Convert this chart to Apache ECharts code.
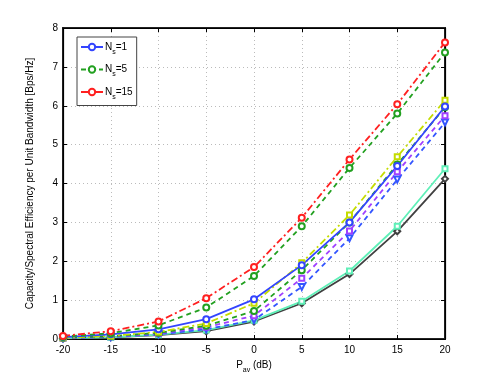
<!DOCTYPE html>
<html><head><meta charset="utf-8">
<script src="https://cdn.jsdelivr.net/npm/echarts@6/dist/echarts.min.js"></script>
<style>html,body{margin:0;padding:0;background:#fff}#c{width:491px;height:382px;background:#fff}</style>
</head><body><div id="c"></div>
<script>
const xTicks = [-20, -15, -10, -5, 0, 5, 10, 15, 20];
const ns15   = [0.08, 0.20, 0.45, 1.05, 1.85, 3.12, 4.62, 6.04, 7.63];
const ns5    = [0.06, 0.15, 0.35, 0.81, 1.62, 2.90, 4.40, 5.80, 7.37];
const ns1    = [0.05, 0.12, 0.25, 0.51, 1.02, 1.90, 3.00, 4.45, 5.98];
const yellow = [0.03, 0.08, 0.18, 0.40, 0.92, 1.96, 3.19, 4.69, 6.14];
const green2 = [0.03, 0.07, 0.16, 0.34, 0.72, 1.77, 3.00, 4.49, 5.96];
const purple = [0.02, 0.06, 0.14, 0.30, 0.60, 1.56, 2.78, 4.30, 5.74];
const blueDash = [0.02, 0.05, 0.12, 0.25, 0.49, 1.34, 2.59, 4.10, 5.57];
const cyan   = [0.02, 0.04, 0.11, 0.23, 0.48, 0.97, 1.75, 2.90, 4.38];
const gray   = [0.01, 0.04, 0.10, 0.20, 0.45, 0.92, 1.67, 2.77, 4.12];

const pairs = a => xTicks.map((x, i) => [x, a[i]]);
const mk = (name, data, color, type, symbol, extra) => Object.assign({
  name, type: 'line', data: pairs(data), symbol, symbolSize: 6,
  lineStyle: { color, width: 1.8, type },
  itemStyle: { color, borderColor: color, borderWidth: 1.5 },
  showSymbol: true, z: 3
}, extra || {});

const chart = echarts.init(document.getElementById('c'));
const fontF = '"Liberation Sans Narrow", "Liberation Sans", Arial, sans-serif';
const axLine = () => ({ show: true, onZero: false, lineStyle: { color: '#000', width: 1.2 } });
const axTick = () => ({ show: true, inside: true, length: 4, lineStyle: { color: '#000' } });
const dotted = () => ({ show: true, lineStyle: { color: '#bbb', type: [1, 3] } });
chart.setOption({
  animation: false,
  grid: { left: 63, right: 46, top: 28, bottom: 43, show: true, borderColor: '#222', borderWidth: 2 },
  legend: {
    data: ['Ns1', 'Ns5', 'Ns15'],
    orient: 'vertical', left: 77, top: 37,
    backgroundColor: '#fff', borderColor: '#444', borderWidth: 1,
    padding: [5, 4, 5, 3], itemGap: 9, itemWidth: 22, itemHeight: 8,
    formatter: n => ({ Ns1: 'N{s|s}=1', Ns5: 'N{s|s}=5', Ns15: 'N{s|s}=15' })[n],
    textStyle: { fontFamily: fontF, fontSize: 10, color: '#000', padding: [0, 0, 0, -3],
      rich: { s: { fontSize: 7, padding: [10, 0, 0, 0], fontFamily: fontF } } }
  },
  xAxis: [
    { type: 'value', min: -20, max: 20, interval: 5,
      name: 'P{s|av} (dB)', nameLocation: 'middle', nameGap: 9,
      nameTextStyle: { fontFamily: fontF, fontSize: 10, color: '#000',
        rich: { s: { fontSize: 7, padding: [10, 0, 0, 0], fontFamily: fontF } } },
      axisLabel: { fontFamily: fontF, fontSize: 10, color: '#000', margin: 6 },
      axisLine: axLine(), axisTick: axTick(), splitLine: dotted() },
    { type: 'value', min: -20, max: 20, interval: 5, position: 'top',
      axisLabel: { show: false }, axisLine: axLine(), axisTick: axTick(), splitLine: { show: false } }
  ],
  yAxis: [
    { type: 'value', min: 0, max: 8, interval: 1,
      name: 'Capacity/Spectral Efficiency per Unit Bandwidth [Bps/Hz]',
      nameLocation: 'middle', nameGap: 28,
      nameTextStyle: { fontFamily: fontF, fontSize: 10, color: '#000' },
      axisLabel: { fontFamily: fontF, fontSize: 10, color: '#000', margin: 5 },
      axisLine: axLine(), axisTick: axTick(), splitLine: dotted() },
    { type: 'value', min: 0, max: 8, interval: 1, position: 'right',
      axisLabel: { show: false }, axisLine: axLine(), axisTick: axTick(), splitLine: { show: false } }
  ],
  series: [
    mk('gray', gray, '#404040', 'solid', 'emptyDiamond', { xAxisIndex: 1, yAxisIndex: 1 }),
    mk('cyan', cyan, '#5ff0b8', 'solid', 'emptyRect', { symbolSize: 5 }),
    mk('blueDash', blueDash, '#3355ff', [5, 4], 'emptyTriangle', { symbolRotate: 180 }),
    mk('purple', purple, '#a040ff', [5, 4], 'emptyRect', { symbolSize: 5 }),
    mk('green2', green2, '#22a020', [5, 4], 'emptyCircle'),
    mk('yellow', yellow, '#c4dc00', [7, 3, 2, 3], 'emptyRect', { symbolSize: 5 }),
    mk('Ns1', ns1, '#3344ff', 'solid', 'emptyCircle'),
    mk('Ns5', ns5, '#22a020', [5, 4], 'emptyCircle'),
    mk('Ns15', ns15, '#ff2020', [7, 3, 2, 3], 'emptyCircle')
  ]
});
</script></body></html>
